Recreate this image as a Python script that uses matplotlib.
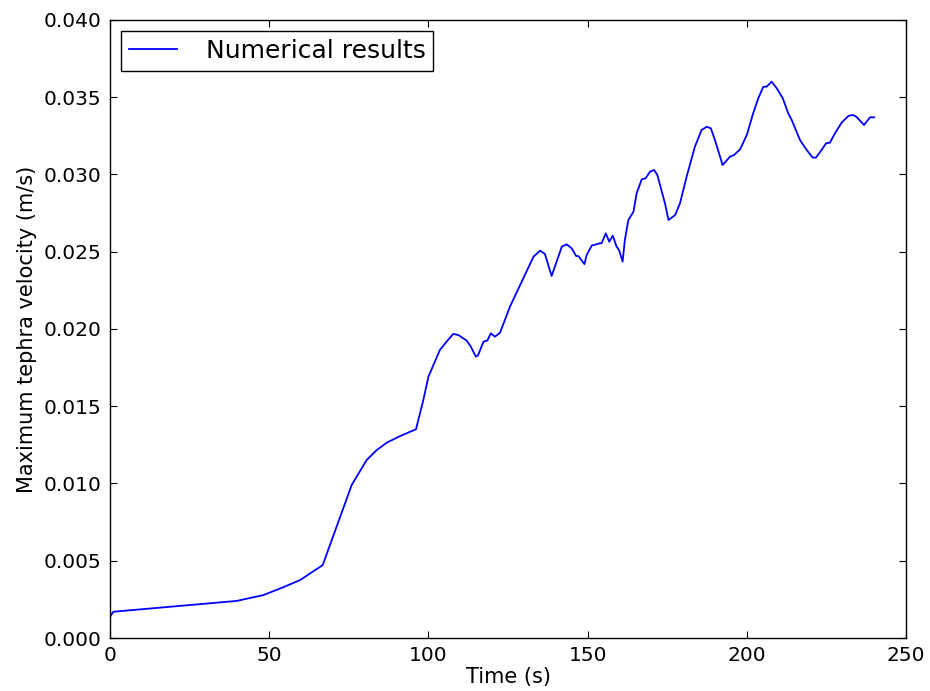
import matplotlib
matplotlib.use("Agg")
import matplotlib.pyplot as plt

time_s = [0.0, 1.05, 39.8, 48.2, 54.0, 59.7, 66.8, 75.9, 80.6, 83.8, 86.9, 91.1, 96.1,
          98.4, 100.0, 103.6, 105.7, 107.8, 109.4, 112.0, 113.3, 114.9, 115.6, 117.3,
          118.5, 119.6, 120.9, 122.5, 125.6, 129.8, 133.0, 135.1, 136.6, 138.7, 141.9,
          143.4, 145.0, 146.4, 147.1, 149.0, 149.7, 151.3, 152.3, 153.9, 154.4, 155.7,
          156.8, 157.9, 159.1, 159.9, 161.0, 161.7, 162.8, 164.4, 165.4, 167.0, 168.2,
          169.6, 170.9, 171.9, 174.3, 175.4, 177.5, 179.0, 181.1, 183.7, 185.8, 187.4,
          188.7, 190.0, 192.4, 194.7, 196.0, 197.9, 200.0, 202.0, 203.6, 205.2, 206.2,
          207.8, 209.4, 211.3, 213.0, 214.1, 216.7, 218.8, 220.7, 221.7, 223.5, 224.9,
          226.1, 227.7, 229.8, 231.9, 233.4, 234.5, 236.8, 238.7, 240.0]
velocity = [0.00138, 0.0017, 0.0024, 0.00278, 0.00325, 0.00375, 0.00472, 0.0099, 0.01152,
            0.01217, 0.01264, 0.01307, 0.01351, 0.0154, 0.01691, 0.01864, 0.01918, 0.01968,
            0.01961, 0.01925, 0.01886, 0.01821, 0.0183, 0.01918, 0.01925, 0.01972, 0.0195,
            0.01976, 0.02144, 0.02328, 0.02468, 0.02507, 0.02485, 0.02343, 0.02533, 0.02548,
            0.02522, 0.02472, 0.02472, 0.0242, 0.02479, 0.0254, 0.02545, 0.02555, 0.02555,
            0.02619, 0.02565, 0.02604, 0.02533, 0.0251, 0.02436, 0.02576, 0.02705, 0.02759,
            0.02878, 0.02969, 0.02975, 0.03018, 0.03029, 0.02997, 0.02813, 0.02705, 0.02738,
            0.02813, 0.02986, 0.0318, 0.03288, 0.03309, 0.03299, 0.03223, 0.03061, 0.03115,
            0.03126, 0.03163, 0.03256, 0.03396, 0.03493, 0.03568, 0.03568, 0.03601, 0.03558,
            0.03493, 0.03396, 0.03353, 0.03223, 0.03159, 0.03109, 0.03109, 0.03159, 0.03202,
            0.03206, 0.03267, 0.03336, 0.03379, 0.03385, 0.03372, 0.0332, 0.0337, 0.0337]

x_ticks = [0, 50, 100, 150, 200, 250]
y_ticks = [0.000, 0.005, 0.010, 0.015, 0.020, 0.025, 0.030, 0.035, 0.040]

fig = plt.figure(figsize=(9.3, 6.91), dpi=100)
ax = fig.add_axes([0.1183, 0.0767, 0.8559, 0.8944])
ax.plot(time_s, velocity, color="blue", linewidth=1.3, label="Numerical results")
ax.set_xlim(0, 250)
ax.set_ylim(0, 0.04)
ax.set_xticks(x_ticks)
ax.set_yticks(y_ticks)
ax.set_xticklabels([str(t) for t in x_ticks])
ax.set_yticklabels([f"{v:.3f}" for v in y_ticks])
ax.tick_params(direction="in", top=True, right=True, length=5, width=0.8,
               labelsize=14.5, pad=6)
for s in ax.spines.values():
    s.set_linewidth(1.0)
ax.set_xlabel("Time (s)", fontsize=15, labelpad=1)
ax.set_ylabel("Maximum tephra velocity (m/s)", fontsize=15, labelpad=5)
leg = ax.legend(loc="upper left", fontsize=18, fancybox=False, framealpha=1,
                edgecolor="black", handlelength=1.9, borderaxespad=0.45,
                borderpad=0.32, handletextpad=1.15)
leg.get_frame().set_linewidth(1.0)
fig.savefig("out.png", dpi=100, facecolor="white")
